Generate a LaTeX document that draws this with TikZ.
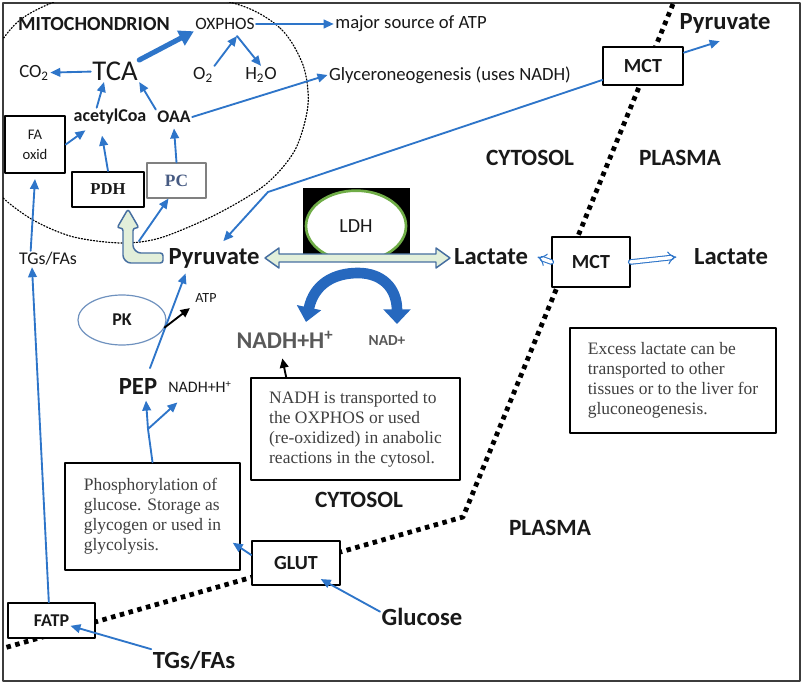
\documentclass[tikz,border=0pt]{standalone}
\usepackage{fontspec}
\setmainfont{Carlito}
\newfontfamily\notefont{Liberation Serif}
\usetikzlibrary{arrows.meta,shapes.geometric}
\definecolor{arrblue}{RGB}{46,117,201}
\definecolor{fatline}{RGB}{70,110,160}
\definecolor{fatfill}{RGB}{226,239,218}
\definecolor{curvblue}{RGB}{38,104,190}
\definecolor{ldhgreen}{RGB}{112,173,71}
\definecolor{pkline}{RGB}{110,145,190}
\definecolor{txt}{RGB}{25,25,25}
\definecolor{graytxt}{RGB}{89,89,89}
\definecolor{boxtxt}{RGB}{64,64,64}
\definecolor{pctxt}{RGB}{70,90,130}
\definecolor{framegray}{RGB}{60,60,60}

\begin{document}
\begin{tikzpicture}[line cap=round,line join=round,x=0.75pt,y=-0.75pt,
  lbl/.style={inner sep=1pt,text=txt},
  big/.style={lbl,font=\fontsize{18.5pt}{20pt}\selectfont\bfseries},
  med/.style={lbl,font=\fontsize{14pt}{16pt}\selectfont},
  region/.style={lbl,font=\fontsize{17.5pt}{19pt}\selectfont\bfseries},
  tbox/.style={draw=black,line width=1.1pt,fill=white,inner sep=0pt,text=txt},
  note/.style={draw=black,line width=1.1pt,fill=white,align=left,text=boxtxt,
    font=\notefont\fontsize{13.1pt}{15pt}\selectfont},
  barr/.style={draw=arrblue,line width=1.4pt,-{Triangle[length=7.5pt,width=6.5pt]}},
  karr/.style={draw=black,line width=1.4pt,-{Triangle[length=7pt,width=6.5pt]}},
  fat/.style={draw=fatline,line width=1.1pt,fill=fatfill},
  hollow/.style={draw=arrblue,line width=0.8pt,double=white,double distance=2.6pt,-{Implies}},
  memb/.style={line width=3.6pt,line cap=butt,dash pattern=on 3.4pt off 3.4pt}]
\useasboundingbox (0,0) rectangle (803,684);
\draw [line width=1.2pt,color=framegray] (3,3) rectangle (800,681);
% mitochondrion membrane
\begin{scope}
\clip (3,3) rectangle (800,681);
\draw [line width=0.9pt,dash pattern=on 0.9pt off 1.4pt] plot [smooth cycle] coordinates {(233,3) (280,28) (303,65) (308,105) (295,150) (265,185) (215,215) (160,238) (120,243) (70,236) (25,215) (-10,180) (-25,100) (20,20) (120,-15)};
\end{scope}
% cell membrane
\draw [memb] (673,4) -- (463,517) -- (4,648);

% mitochondrion
\node [lbl,font=\fontsize{15pt}{17pt}\selectfont\bfseries] (mito) at (94,24) {MITOCHONDRION};
\node [lbl,font=\fontsize{13pt}{15pt}\selectfont] (oxphos) at (225,24) {OXPHOS};
\node [med] (major) at (411,24) {major source of ATP};
\node [lbl,font=\fontsize{21.5pt}{24pt}\selectfont] (tca) at (115,71) {TCA};
\node [med] (co2) at (34,73) {CO\textsubscript{2}};
\node [med] (otwo) at (203,75) {O\textsubscript{2}};
\node [med] (hto) at (261,75) {H\textsubscript{2}O};
\node [med] (glyneo) at (450,75) {Glyceroneogenesis (uses NADH)};
\node [lbl,font=\fontsize{13.5pt}{15pt}\selectfont\bfseries] (acoa) at (110,117) {acetylCoa};
\node [lbl,font=\fontsize{13.3pt}{15pt}\selectfont\bfseries] (oaa) at (174,117) {OAA};
\node [tbox,minimum width=45pt,minimum height=42.75pt,align=center,font=\fontsize{11pt}{15pt}\selectfont] (faox) at (35,144.5) {FA\\oxid};
\node [tbox,line width=1.5pt,minimum width=54pt,minimum height=26.25pt,font=\notefont\fontsize{12.5pt}{14pt}\selectfont\bfseries] (pdh) at (108,189.5) {PDH};
\node [tbox,draw=gray,line width=0.8pt,text=pctxt,minimum width=44.25pt,minimum height=26.25pt,font=\notefont\fontsize{13pt}{14pt}\selectfont\bfseries] (pc) at (176.5,180.5) {PC};
\node [lbl,font=\fontsize{13.4pt}{15pt}\selectfont] (tgl) at (48,259) {TGs/FAs};

% cytosol
\node [big] (pyr) at (214,258) {Pyruvate};
\node [big] (lac) at (491,257) {Lactate};
\node [fill=black,minimum width=80.25pt,minimum height=55.5pt,inner sep=0pt] (ldhbg) at (356.5,225) {};
\node [ellipse,draw=ldhgreen,line width=2pt,fill=white,minimum width=75pt,minimum height=53pt,text=txt,font=\fontsize{15pt}{17pt}\selectfont] (ldh) at (356,226) {LDH};
\node [lbl,text=graytxt,font=\fontsize{18pt}{20pt}\selectfont\bfseries] (nadh) at (285,340) {NADH+H\textsuperscript{+}};
\node [lbl,text=graytxt,font=\fontsize{11.5pt}{13pt}\selectfont\bfseries] (nadp) at (387,341) {NAD+};
\node [note,minimum width=156.75pt,minimum height=76.5pt] (nadhbox) at (355.5,429) {NADH is transported to\\the OXPHOS or used\\(re-oxidized) in anabolic\\reactions in the cytosol.};
\node [ellipse,draw=pkline,line width=0.9pt,minimum width=66pt,minimum height=37.5pt,text=txt,font=\fontsize{13.5pt}{15pt}\selectfont\bfseries] (pk) at (122,320) {PK};
\node [lbl,font=\fontsize{10.5pt}{12pt}\selectfont] (atpk) at (206,298) {ATP};
\node [big] (pep) at (138,387) {PEP};
\node [lbl,font=\fontsize{12pt}{14pt}\selectfont] (nadhs) at (200,387) {NADH+H\textsuperscript{+}};
\node [note,minimum width=131.25pt,minimum height=80.25pt] (phos) at (152.5,516.5) {Phosphorylation of\\glucose. Storage as\\glycogen or used in\\glycolysis.};
\node [region] (cyt1) at (530,158) {CYTOSOL};
\node [region] (cyt2) at (359,500) {CYTOSOL};

% plasma
\node [big] (pyrp) at (725,23) {Pyruvate};
\node [big] (lacp) at (731,257) {Lactate};
\node [region] (pla1) at (680,158) {PLASMA};
\node [region] (pla2) at (550,528) {PLASMA};
\node [note,minimum width=154.5pt,minimum height=78.75pt] (excess) at (673,380.5) {Excess lactate can be\\transported to other\\tissues or to the liver for\\gluconeogenesis.};
\node [big] (glucose) at (422,617) {Glucose};
\node [big] (tgb) at (194,660) {TGs/FAs};

% transporters
\node [tbox,minimum width=60pt,minimum height=28.5pt,font=\fontsize{15pt}{17pt}\selectfont\bfseries] (mct1) at (643,66) {MCT};
\node [tbox,minimum width=58.5pt,minimum height=37.5pt,font=\fontsize{15pt}{17pt}\selectfont\bfseries] (mct2) at (591,262) {MCT};
\node [tbox,minimum width=66pt,minimum height=33pt,font=\fontsize{15pt}{17pt}\selectfont\bfseries] (glut) at (296,563) {GLUT};
\node [tbox,minimum width=65.25pt,minimum height=26.25pt,font=\fontsize{13.5pt}{15pt}\selectfont\bfseries] (fatp) at (51.5,620.5) {FATP};

% arrows in the mitochondrion
\coordinate (vtop) at (237,36);
\draw [barr] (oxphos) -- (major);
\draw [barr] (tca) -- (co2);
\draw [draw=arrblue,line width=3.8pt,-{Triangle[length=11pt,width=12pt]}] (tca.north east) -- (oxphos.south west);
\draw [barr] (otwo.north east) -- (vtop);
\draw [barr] (vtop) -- (hto.north);
\draw [barr] (oaa.east) -- (glyneo.west);
\draw [barr] (acoa.145) -- (tca.-135);
\draw [barr] (oaa.north west) -- (tca.south east);
\draw [barr] (faox.east) -- ([xshift=10pt,yshift=-3pt]acoa.south west);
\draw [barr] (pdh.north) -- ([xshift=-6pt,yshift=-7pt]acoa.south);
\draw [barr] (pc.north) -- ([yshift=-3pt]oaa.south);
\draw [barr] ([xshift=-13pt]tgl.north) -- ([yshift=-4pt]faox.south);

% pyruvate into the mitochondrion
\coordinate (lfork) at (139,241);
\draw [fat,rounded corners=2pt] (163,253) -- (138,253) -- (133,248) -- (133,228) -- (139,228) -- (128,209) -- (117,228) -- (123,228) -- (123,258) -- (128,263) -- (163,263) -- cycle;
\draw [barr] (lfork) -- ([xshift=-6pt]pc.south);

% LDH reaction
\draw [curvblue,line width=8pt,line cap=butt,{Triangle[length=11pt,width=18pt]}-{Triangle[length=11pt,width=20pt]}] (306,322) .. controls (314,284) and (334,273) .. (358,273) .. controls (382,273) and (397,288) .. (397,324);
\coordinate (dl) at (265,258);
\coordinate (dr) at (450,258);
\draw [fat] (dl) -- ++(14,-10) -- ++(0,6) -- ([shift={(-14,-4)}]dr) -- ++(0,-6) -- (dr) -- ++(-14,10) -- ++(0,-6) -- ([shift={(14,4)}]dl) -- ++(0,6) -- cycle;
\draw [karr] ([xshift=-52pt]nadhbox.north) -- ([xshift=-2pt,yshift=-6pt]nadh.south);

% glycolysis
\coordinate (fork) at (148,429);
\draw [draw=arrblue,line width=1.4pt] (phos.north) -- (fork);
\draw [barr] (fork) -- ([xshift=6pt,yshift=-3pt]pep.south);
\draw [barr] (fork) -- ([xshift=8pt,yshift=-6pt]nadhs.south west);
\draw [barr] ([xshift=9pt,yshift=7pt]pep.north) -- ([xshift=14pt,yshift=-3pt]pyr.south west);
\draw [karr] (pk.-10) -- ([xshift=-3pt,yshift=-3pt]atpk.south west);

% transport
\coordinate (kink) at (268,192);
\draw [barr] ([yshift=-10.5pt]mct1.west) -- (kink) -- ([xshift=7pt,yshift=4pt]pyr.north);
\draw [barr] ([yshift=10pt]mct1.east) -- ([xshift=-4pt,yshift=-5pt]pyrp.south);
\draw [hollow] (mct2.west) -- ([xshift=6pt]lac.east);
\draw [hollow] (mct2.east) -- ([xshift=-12pt]lacp.west);
\draw [barr] ([yshift=4pt]glucose.west) -- ([xshift=-15pt,yshift=5pt]glut.south east);
\draw [barr] ([yshift=6pt]glut.west) -- ([xshift=-6pt,yshift=21pt]phos.south east);
\draw [barr] (tgb.north west) -- ([xshift=-19pt,yshift=-4pt]fatp.east);
\draw [barr] ([xshift=-2pt]fatp.north) -- ([xshift=-12pt]tgl.south);
\end{tikzpicture}
\end{document}
